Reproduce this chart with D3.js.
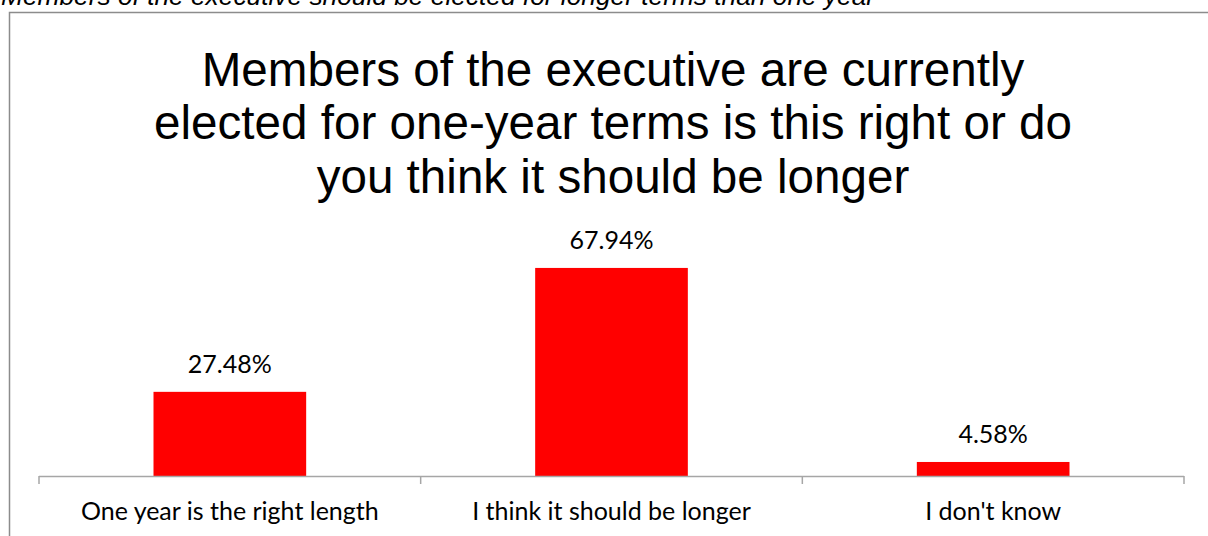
<!DOCTYPE html>
<html>
<head>
<meta charset="utf-8">
<script src="https://cdn.jsdelivr.net/npm/d3@7/dist/d3.min.js"></script>
<style>
  html, body { margin: 0; padding: 0; background: #ffffff; }
  svg { display: block; }
</style>
</head>
<body>
<svg id="chart" width="1208" height="536"></svg>
<script>
// Survey question and answer shares (percent)
const question = "Members of the executive should be elected for longer terms than one year";
const titleLines = [
  "Members of the executive are currently",
  "elected for one-year terms is this right or do",
  "you think it should be longer"
];
const categories = ["One year is the right length", "I think it should be longer", "I don't know"];
const shares = [27.48, 67.94, 4.58];

const W = 1208, H = 536;
const svg = d3.select("#chart");

const margin = { left: 39, right: 24, top: 231, bottom: 60 };
const axisY = H - margin.bottom;

const x = d3.scaleBand()
  .domain(categories)
  .range([margin.left, W - margin.right])
  .paddingInner(0.6)
  .paddingOuter(0.3);

const y = d3.scaleLinear()
  .domain([0, 80])
  .range([axisY, margin.top]);

// Question heading, partly above the visible area
svg.append("text")
  .attr("x", 1)
  .attr("y", 5)
  .attr("font-family", "'Liberation Sans', Arial, sans-serif")
  .attr("font-style", "italic")
  .attr("font-size", 26.3)
  .attr("fill", "#000")
  .text(question);

// Chart frame
svg.append("rect")
  .attr("x", 9.5)
  .attr("y", 12.5)
  .attr("width", 1220)
  .attr("height", 560)
  .attr("fill", "#ffffff")
  .attr("stroke", "#8c8c8c")
  .attr("stroke-width", 1.5);

// Title
const title = svg.append("text")
  .attr("text-anchor", "middle")
  .attr("font-family", "'Liberation Sans', Arial, sans-serif")
  .attr("font-size", 47.6)
  .attr("fill", "#000");
title.selectAll("tspan")
  .data(titleLines)
  .join("tspan")
  .attr("x", 613)
  .attr("y", (d, i) => 86 + i * 53.3)
  .text(d => d);

// Bars
svg.append("g")
  .selectAll("rect")
  .data(shares)
  .join("rect")
  .attr("x", (d, i) => x(categories[i]))
  .attr("y", d => y(d))
  .attr("width", x.bandwidth())
  .attr("height", d => y(0) - y(d))
  .attr("fill", "#ff0000");

// Value labels
svg.append("g")
  .selectAll("text")
  .data(shares)
  .join("text")
  .attr("x", (d, i) => x(categories[i]) + x.bandwidth() / 2)
  .attr("y", d => y(d) - 19)
  .attr("text-anchor", "middle")
  .attr("font-family", "Lato, 'Open Sans', sans-serif")
  .attr("font-size", 25)
  .attr("fill", "#000")
  .text(d => d.toFixed(2) + "%");

// Category axis with ticks on band boundaries
const axisG = svg.append("g")
  .attr("transform", `translate(0,${axisY})`);
axisG.append("line")
  .attr("x1", margin.left)
  .attr("x2", W - margin.right)
  .attr("y1", 0.5)
  .attr("y2", 0.5)
  .attr("stroke", "#a6a6a6")
  .attr("stroke-width", 1.5);
const bounds = categories.map(c => x(c) - x.step() * x.paddingInner() / 2);
bounds[0] = margin.left;
bounds.push(W - margin.right);
axisG.selectAll("line.tick")
  .data(bounds)
  .join("line")
  .attr("class", "tick")
  .attr("x1", d => d)
  .attr("x2", d => d)
  .attr("y1", 0)
  .attr("y2", 8)
  .attr("stroke", "#a6a6a6")
  .attr("stroke-width", 1.5);
axisG.selectAll("text")
  .data(categories)
  .join("text")
  .attr("x", d => x(d) + x.bandwidth() / 2)
  .attr("y", 44)
  .attr("text-anchor", "middle")
  .attr("font-family", "Lato, 'Open Sans', sans-serif")
  .attr("font-size", 25)
  .attr("fill", "#000")
  .text(d => d);
</script>
</body>
</html>
